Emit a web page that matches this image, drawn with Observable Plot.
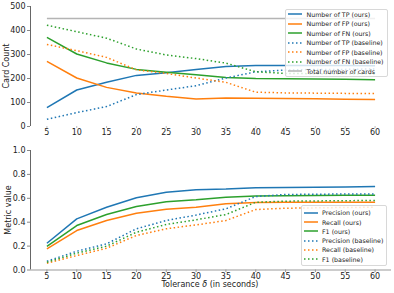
<!DOCTYPE html>
<html><head><meta charset="utf-8">
<script src="https://cdn.jsdelivr.net/npm/d3@7"></script>
<script src="https://cdn.jsdelivr.net/npm/@observablehq/plot@0.6"></script>
<style>
body{margin:0;background:#fff;font-family:"DejaVu Sans",sans-serif;}
#wrap{position:relative;width:394px;height:293px;overflow:hidden;background:#fff}
.panel{position:absolute;left:0}
.legend{position:absolute;background:rgba(255,255,255,0.8);border:1px solid #d8d8d8;border-radius:2px;box-sizing:border-box}
.li{position:absolute;font-size:6.3px;color:#222;white-space:nowrap;line-height:7px;height:7px}
.sw{position:absolute}
.lab{position:absolute;font-size:8px;color:#222;white-space:nowrap;line-height:10px}
</style>
</head><body>
<div id="wrap"></div>
<script>
// ---- data ----
const tolerance = [5, 10, 15, 20, 25, 30, 35, 40, 45, 50, 55, 60];
const tpOurs   = [79, 152, 184, 213, 224, 238, 250, 254, 254, 254, 254, 253];
const fpOurs   = [271, 202, 163, 140, 126, 115, 119, 118, 117, 116, 114, 112];
const fnOurs   = [371, 302, 265, 238, 226, 216, 204, 200, 199, 198, 197, 195];
const tpBase   = [30, 58, 83, 133, 152, 170, 202, 228, 235, 238, 238, 240];
const fpBase   = [342, 316, 288, 236, 221, 202, 184, 143, 140, 139, 138, 137];
const fnBase   = [422, 395, 368, 323, 298, 283, 264, 228, 221, 220, 220, 219];
const totalCards = [450, 450, 450, 450, 450, 450, 450, 450, 450, 450, 450, 450];

const precOurs = [0.224, 0.428, 0.525, 0.604, 0.651, 0.672, 0.677, 0.688, 0.690, 0.692, 0.695, 0.699];
const recOurs  = [0.177, 0.330, 0.414, 0.475, 0.509, 0.525, 0.554, 0.565, 0.566, 0.566, 0.567, 0.567];
const f1Ours   = [0.197, 0.372, 0.464, 0.531, 0.571, 0.587, 0.609, 0.620, 0.622, 0.623, 0.625, 0.626];
const precBase = [0.074, 0.157, 0.219, 0.345, 0.414, 0.460, 0.512, 0.615, 0.632, 0.634, 0.636, 0.637];
const recBase  = [0.057, 0.121, 0.182, 0.289, 0.345, 0.377, 0.414, 0.506, 0.517, 0.520, 0.523, 0.525];
const f1Base   = [0.065, 0.141, 0.199, 0.316, 0.381, 0.420, 0.464, 0.567, 0.576, 0.578, 0.580, 0.582];

const xTicks = [5, 10, 15, 20, 25, 30, 35, 40, 45, 50, 55, 60];
const yTicksTop = [0, 100, 200, 300, 400, 500];
const yTicksBottom = [0, 0.2, 0.4, 0.6, 0.8, 1.0];

const topSeries = [
  {name: "Number of TP (ours)", values: tpOurs, color: "#1f77b4", dash: null},
  {name: "Number of FP (ours)", values: fpOurs, color: "#ff7f0e", dash: null},
  {name: "Number of FN (ours)", values: fnOurs, color: "#2ca02c", dash: null},
  {name: "Number of TP (baseline)", values: tpBase, color: "#1f77b4", dash: "1.5,2.5"},
  {name: "Number of FP (baseline)", values: fpBase, color: "#ff7f0e", dash: "1.5,2.5"},
  {name: "Number of FN (baseline)", values: fnBase, color: "#2ca02c", dash: "1.5,2.5"},
  {name: "Total number of cards", values: totalCards, color: "#b4b4b4", dash: null}
];
const bottomSeries = [
  {name: "Precision (ours)", values: precOurs, color: "#1f77b4", dash: null},
  {name: "Recall (ours)", values: recOurs, color: "#ff7f0e", dash: null},
  {name: "F1 (ours)", values: f1Ours, color: "#2ca02c", dash: null},
  {name: "Precision (baseline)", values: precBase, color: "#1f77b4", dash: "1.5,2.5"},
  {name: "Recall (baseline)", values: recBase, color: "#ff7f0e", dash: "1.5,2.5"},
  {name: "F1 (baseline)", values: f1Base, color: "#2ca02c", dash: "1.5,2.5"}
];

const xDomain = [2.25, 62.75];
const wrap = document.getElementById("wrap");
const baseStyle = {fontFamily: "DejaVu Sans", fontSize: "8px", color: "#222", background: "transparent", overflow: "visible"};

function seriesMarks(series) {
  return series.map(s => Plot.line(tolerance.map((t, i) => ({t, v: s.values[i]})), {
    x: "t", y: "v", stroke: s.color, strokeWidth: 1.5,
    strokeDasharray: s.dash || undefined, strokeLinecap: "butt", strokeLinejoin: "round"
  }));
}

const topPlot = Plot.plot({
  width: 394, height: 140,
  marginLeft: 30, marginRight: 3, marginTop: 6, marginBottom: 14,
  style: baseStyle,
  x: {domain: xDomain},
  y: {domain: [0, 500]},
  marks: [
    Plot.ruleX([xDomain[0]], {stroke: "#666", strokeWidth: 1}),
    Plot.axisY({ticks: yTicksTop, tickSize: 3, tickPadding: 2, label: null, stroke: "#888", fill: "#222"}),
    Plot.axisX({ticks: xTicks, tickSize: 2, tickPadding: 0.5, label: null, stroke: "#bbb", fill: "#222"}),
    ...seriesMarks(topSeries)
  ]
});
topPlot.classList.add("panel");
topPlot.style.top = "0px";
wrap.appendChild(topPlot);

const bottomPlot = Plot.plot({
  width: 394, height: 153,
  marginLeft: 30, marginRight: 3, marginTop: 10, marginBottom: 23.5,
  style: baseStyle,
  x: {domain: xDomain},
  y: {domain: [0, 1]},
  marks: [
    Plot.ruleX([xDomain[0]], {stroke: "#666", strokeWidth: 1}),
    Plot.ruleY([0], {stroke: "#999", strokeWidth: 1}),
    Plot.axisY({ticks: yTicksBottom, tickFormat: d3.format(".1f"), tickSize: 3, tickPadding: 2, label: null, stroke: "#888", fill: "#222"}),
    Plot.axisX({ticks: xTicks, tickSize: 2.5, tickPadding: 1, label: null, stroke: "#999", fill: "#222"}),
    ...seriesMarks(bottomSeries)
  ]
});
bottomPlot.classList.add("panel");
bottomPlot.style.top = "140px";
wrap.appendChild(bottomPlot);

// ---- legends ----
function legend(series, box, startY, step, swX, txtX) {
  const d = document.createElement("div");
  d.className = "legend";
  Object.assign(d.style, {left: box[0] + "px", top: box[1] + "px", width: (box[2] - box[0]) + "px", height: (box[3] - box[1]) + "px"});
  wrap.appendChild(d);
  series.forEach((s, i) => {
    const cy = startY + i * step;
    const svg = document.createElementNS("http://www.w3.org/2000/svg", "svg");
    svg.setAttribute("class", "sw");
    svg.setAttribute("width", 16); svg.setAttribute("height", 4);
    svg.style.left = (swX - 1) + "px"; svg.style.top = (cy - 2) + "px";
    const ln = document.createElementNS("http://www.w3.org/2000/svg", "line");
    ln.setAttribute("x1", 1); ln.setAttribute("x2", 15); ln.setAttribute("y1", 2); ln.setAttribute("y2", 2);
    ln.setAttribute("stroke", s.color); ln.setAttribute("stroke-width", 1.5);
    if (s.dash) ln.setAttribute("stroke-dasharray", s.dash);
    svg.appendChild(ln);
    wrap.appendChild(svg);
    const t = document.createElement("div");
    t.className = "li";
    t.textContent = s.name;
    t.style.left = txtX + "px"; t.style.top = (cy - 3.5) + "px";
    wrap.appendChild(t);
  });
}
legend(topSeries, [285, 9, 388, 77], 14, 9.55, 288, 306.5);
legend(bottomSeries, [301, 205, 387, 266], 212.7, 9.32, 304, 322);

// ---- axis labels ----
function label(html, cx, cy, rot) {
  const d = document.createElement("div");
  d.className = "lab";
  d.innerHTML = html;
  d.style.left = cx + "px"; d.style.top = cy + "px";
  d.style.transform = "translate(-50%,-50%)" + (rot ? " rotate(-90deg)" : "");
  wrap.appendChild(d);
}
label("Card Count", 6.5, 66, true);
label("Metric value", 9, 210, true);
label("Tolerance <i>δ</i> (in seconds)", 210, 285, false);
</script>
</body></html>
